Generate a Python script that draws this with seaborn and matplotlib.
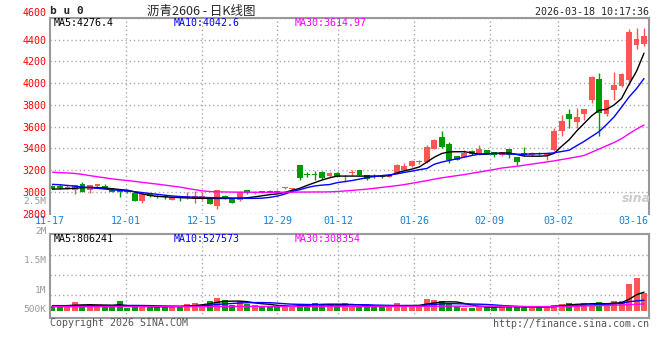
import numpy as np
import pandas as pd
import seaborn as sns
import matplotlib
matplotlib.use("Agg")
import matplotlib.pyplot as plt

# ---- data (bu0 daily K, 80 sessions) ----
tick_idx = [0, 10, 20, 30, 38, 48, 58, 67, 77]
tick_labels = ["11-17", "12-01", "12-15", "12-29", "01-12", "01-26", "02-09", "03-02", "03-16"]

opens = [3054, 3052, 3040, 3017, 3072, 3017, 3054, 3057, 3030, 3017,
         3014, 2993, 2920, 2978, 2962, 2960, 2926, 2950, 2941, 2932,
         2941, 2941, 2871, 2962, 2941, 2926, 3017, 2987, 3005, 3011,
         3005, 3033, 3023, 3247, 3163, 3163, 3185, 3146, 3176, 3133,
         3174, 3200, 3158, 3148, 3142, 3139, 3176, 3200, 3237, 3275,
         3277, 3399, 3506, 3439, 3329, 3323, 3378, 3353, 3384, 3368,
         3344, 3393, 3323, 3359, 3338, 3356, 3338, 3388, 3558, 3714,
         3640, 3714, 3843, 4035, 3714, 3934, 3970, 4026, 4356, 4362]
highs = [3062, 3072, 3060, 3066, 3094, 3066, 3075, 3072, 3035, 3020,
         3020, 2996, 2984, 2985, 2970, 2966, 2955, 2955, 3002, 3011,
         3002, 2945, 3020, 2975, 2944, 3005, 3020, 3008, 3011, 3017,
         3014, 3048, 3039, 3250, 3185, 3190, 3190, 3185, 3185, 3155,
         3200, 3203, 3160, 3164, 3155, 3160, 3255, 3262, 3292, 3298,
         3436, 3491, 3558, 3460, 3335, 3390, 3385, 3430, 3390, 3372,
         3372, 3396, 3325, 3414, 3368, 3370, 3359, 3590, 3707, 3760,
         3770, 3767, 4065, 4093, 3845, 4100, 4097, 4500, 4505, 4505]
lows = [3025, 3028, 3030, 2978, 2998, 2987, 3050, 3027, 2998, 2950,
        2987, 2915, 2895, 2958, 2941, 2935, 2922, 2920, 2938, 2901,
        2926, 2885, 2840, 2935, 2898, 2920, 2984, 2980, 2993, 2990,
        2996, 3030, 3020, 3110, 3133, 3110, 3120, 3140, 3135, 3093,
        3155, 3150, 3110, 3124, 3124, 3133, 3170, 3195, 3230, 3255,
        3270, 3395, 3405, 3268, 3290, 3318, 3340, 3350, 3345, 3320,
        3330, 3314, 3246, 3335, 3330, 3344, 3298, 3380, 3518, 3585,
        3585, 3660, 3820, 3515, 3700, 3843, 3965, 3980, 4317, 4347]
closes = [3030, 3035, 3046, 3063, 3002, 3063, 3072, 3030, 3002, 3002,
          2999, 2920, 2981, 2962, 2955, 2952, 2950, 2945, 2962, 2962,
          2962, 2889, 3017, 2941, 2901, 3002, 2987, 3002, 2999, 2993,
          3000, 3042, 3033, 3124, 3160, 3160, 3124, 3176, 3140, 3137,
          3178, 3155, 3118, 3142, 3138, 3155, 3246, 3237, 3286, 3280,
          3414, 3476, 3414, 3292, 3298, 3362, 3347, 3399, 3353, 3338,
          3368, 3344, 3271, 3338, 3359, 3352, 3353, 3565, 3650, 3668,
          3685, 3760, 4056, 3730, 3843, 3980, 4087, 4469, 4408, 4439]

ma5 = [3026, 3028, 3030, 3034, 3038, 3042, 3040, 3036, 3030, 3022,
       3016, 3000, 2982, 2968, 2960, 2955, 2951, 2948, 2945, 2943,
       2941, 2941, 2940, 2940, 2941, 2942, 2946, 2955, 2965, 2975,
       2982, 2995, 3015, 3033, 3060, 3085, 3110, 3130, 3146, 3146,
       3146, 3146, 3146, 3146, 3146, 3150, 3175, 3195, 3210, 3230,
       3275, 3320, 3354, 3369, 3370, 3370, 3360, 3345, 3348, 3355,
       3359, 3358, 3345, 3330, 3329, 3329, 3332, 3355, 3420, 3480,
       3560, 3630, 3700, 3752, 3760, 3800, 3860, 3990, 4110, 4276]
ma10 = [3070, 3066, 3060, 3053, 3046, 3040, 3033, 3027, 3020, 3015,
        3010, 3002, 2994, 2986, 2978, 2970, 2963, 2958, 2954, 2952,
        2950, 2948, 2946, 2945, 2944, 2942, 2941, 2941, 2943, 2950,
        2962, 2980, 3005, 3020, 3040, 3055, 3063, 3068, 3085, 3095,
        3105, 3118, 3132, 3142, 3150, 3158, 3166, 3180, 3192, 3205,
        3216, 3255, 3275, 3290, 3305, 3320, 3335, 3348, 3352, 3354,
        3352, 3350, 3347, 3347, 3350, 3352, 3354, 3360, 3372, 3384,
        3425, 3465, 3510, 3555, 3620, 3690, 3780, 3873, 3950, 4043]
ma30 = [3182, 3178, 3175, 3170, 3162, 3150, 3140, 3130, 3120, 3112,
        3105, 3097, 3088, 3080, 3072, 3063, 3054, 3045, 3033, 3021,
        3010, 3004, 3001, 3000, 2999, 2998, 2998, 2997, 2997, 2997,
        2997, 2998, 2998, 2999, 2999, 3000, 3000, 3001, 3004, 3009,
        3014, 3020, 3026, 3034, 3042, 3050, 3058, 3068, 3080, 3092,
        3104, 3118, 3130, 3140, 3150, 3160, 3172, 3183, 3195, 3207,
        3220, 3228, 3236, 3246, 3256, 3266, 3276, 3286, 3298, 3310,
        3322, 3336, 3365, 3395, 3425, 3455, 3490, 3535, 3578, 3615]

# volume in thousands of lots
volumes = [333, 333, 333, 479, 333, 401, 333, 367, 367, 503,
           275, 333, 333, 289, 289, 333, 310, 333, 401, 445,
           367, 503, 605, 537, 367, 503, 418, 367, 333, 333,
           333, 333, 289, 401, 401, 435, 401, 401, 333, 435,
           333, 333, 333, 333, 289, 333, 435, 333, 333, 333,
           571, 537, 503, 418, 333, 275, 275, 333, 289, 289,
           333, 333, 289, 333, 289, 289, 333, 367, 401, 435,
           401, 435, 333, 479, 401, 503, 503, 1081, 1275, 785]
vol_ma5 = [340, 340, 345, 360, 370, 375, 370, 365, 360, 375,
           345, 340, 330, 320, 305, 310, 315, 315, 335, 345,
           375, 410, 460, 490, 500, 500, 480, 440, 410, 390,
           355, 340, 325, 340, 355, 380, 390, 395, 395, 390,
           385, 370, 355, 335, 320, 325, 340, 345, 350, 355,
           400, 435, 470, 475, 470, 420, 370, 325, 300, 290,
           305, 315, 310, 310, 305, 300, 305, 320, 340, 370,
           390, 400, 410, 415, 410, 430, 445, 560, 715, 806]
vol_ma10 = [345, 345, 345, 345, 345, 345, 345, 345, 345, 350,
            350, 352, 350, 345, 340, 335, 330, 325, 325, 330,
            345, 360, 385, 405, 420, 435, 445, 450, 450, 445,
            430, 410, 395, 390, 385, 380, 370, 365, 360, 365,
            370, 375, 375, 365, 360, 355, 350, 350, 345, 345,
            365, 385, 405, 415, 410, 405, 400, 395, 385, 370,
            350, 335, 320, 310, 305, 302, 305, 315, 325, 340,
            350, 360, 370, 380, 390, 405, 420, 480, 505, 528]
vol_ma30 = [310, 310, 310, 310, 310, 310, 311, 311, 311, 312,
            312, 312, 312, 312, 312, 312, 313, 313, 313, 313,
            314, 314, 315, 316, 317, 318, 319, 320, 320, 320,
            320, 320, 320, 320, 320, 320, 320, 320, 320, 320,
            320, 320, 320, 320, 320, 320, 320, 320, 320, 320,
            322, 324, 326, 328, 328, 328, 328, 328, 326, 324,
            322, 320, 318, 316, 315, 315, 315, 316, 318, 322,
            328, 334, 340, 346, 352, 358, 366, 378, 392, 401]

RED = "#ff5555"
GREEN = "#009b00"
BLUE_TXT = "#1a80d0"
GRID = "#aaaaaa"
FRAME = "#999999"

sns.set_style("white")
plt.rcParams["font.family"] = ["DejaVu Sans Mono", "Noto Sans CJK SC"]

W, H = 660, 360
fig = plt.figure(figsize=(W / 100, H / 100), dpi=100)


def fx(x):
    return x / W


def fy(y):
    return 1 - y / H


ax = fig.add_axes([fx(50), fy(213.7), 599 / W, 195.7 / H])
axv = fig.add_axes([fx(50), fy(318.3), 599 / W, 84 / H])

df = pd.DataFrame({"open": opens, "high": highs, "low": lows, "close": closes,
                   "vol": volumes, "ma5": ma5, "ma10": ma10, "ma30": ma30,
                   "vma5": vol_ma5, "vma10": vol_ma10, "vma30": vol_ma30})
df["x"] = np.arange(len(df))
up = df["close"] >= df["open"]
cols = np.where(up, RED, GREEN)

# candles
ax.vlines(df["x"], df["low"], df["high"], colors=cols, lw=1, zorder=2)
body = np.maximum((df["close"] - df["open"]).abs(), 7)
ax.bar(df["x"], body, bottom=np.minimum(df["open"], df["close"]),
       width=0.78, color=cols, lw=0, zorder=2)

for col, c in [("ma5", "black"), ("ma10", "#0000ff"), ("ma30", "#ff00ff")]:
    sns.lineplot(data=df, x="x", y=col, ax=ax, color=c, lw=1, zorder=4, legend=False)

# volume
floor = 163
axv.bar(df["x"], df["vol"] - floor, bottom=floor, width=0.8, color=cols, lw=0, zorder=2)
for col, c in [("vma5", "black"), ("vma10", "#0000ff"), ("vma30", "#ff00ff")]:
    sns.lineplot(data=df, x="x", y=col, ax=axv, color=c, lw=1, zorder=4, legend=False)

n = len(df)
xlim = (-1 / 3, n - 1 / 3)
grid_pos = [-1 / 3 + i * n / (n - 1) for i in tick_idx]

for a in (ax, axv):
    a.set_xlim(*xlim)
    a.set_xlabel("")
    a.set_ylabel("")
    for gx, i in zip(grid_pos, tick_idx):
        if 0 < i < 70:
            a.axvline(gx, color=GRID, lw=1, ls=(0, (1, 2)), zorder=1)
    a.tick_params(length=0)

# price axis
ax.set_ylim(2800, 4600)
ax.set_yticks(range(2800, 4601, 200))
ax.set_yticklabels([str(v) for v in range(2800, 4601, 200)], color="#ff0000", fontsize=7.2)
ax.tick_params(axis="y", pad=2.5)
ax.get_yticklabels()[-1].set_va("bottom")
ax.yaxis.grid(True, color=GRID, lw=1, ls=(0, (1, 2)))
ax.set_xticks(grid_pos)
ax.set_xticklabels(tick_labels, color=BLUE_TXT, fontsize=7.2)
ax.tick_params(axis="x", pad=2)
for s in ("left", "top", "right"):
    ax.spines[s].set_color(FRAME)
    ax.spines[s].set_linewidth(1.5)
ax.spines["bottom"].set_visible(False)

# volume axis (0 at y=315.8px, 34K per px)
axv.set_ylim(-85, 2771)
axv.set_yticks([697, 1377, 2067])
axv.set_yticklabels([])
axv.yaxis.grid(True, color=GRID, lw=1, ls=(0, (1, 2)))
axv.set_xticks([])
for s in axv.spines.values():
    s.set_color(FRAME)
    s.set_linewidth(1.5)

for lab, y in [("2.5M", 201), ("2M", 231), ("1.5M", 260.7), ("1M", 290.7), ("500K", 310)]:
    fig.text(fx(46.5), fy(y), lab, color="#999999", fontsize=6.8, ha="right", va="center")

# header texts
fig.text(fx(50), fy(11), "b u 0", fontsize=8, fontweight="bold", va="center", ha="left")
fig.text(fx(201), fy(11), "沥青2606 - 日K线图", fontsize=9, va="center", ha="center",
         family=["Noto Sans CJK SC", "DejaVu Sans"])
fig.text(fx(649), fy(12), "2026-03-18 10:17:36", fontsize=7.2, va="center", ha="right")

fig.text(fx(54), fy(23.3), "MA5:4276.4", fontsize=7.2, color="black", va="center")
fig.text(fx(174), fy(23.3), "MA10:4042.6", fontsize=7.2, color="#0000ff", va="center")
fig.text(fx(295), fy(23.3), "MA30:3614.97", fontsize=7.2, color="#ff00ff", va="center")

fig.text(fx(54), fy(238.5), "MA5:806241", fontsize=7.2, color="black", va="center")
fig.text(fx(174), fy(238.5), "MA10:527573", fontsize=7.2, color="#0000ff", va="center")
fig.text(fx(295), fy(238.5), "MA30:308354", fontsize=7.2, color="#ff00ff", va="center")

fig.text(fx(50), fy(323.5), "Copyright 2026 SINA.COM", fontsize=7.2, color="#555555", va="center")
fig.text(fx(649), fy(324), "http://finance.sina.com.cn", fontsize=7.2, color="#555555",
         va="center", ha="right")

fig.text(fx(636), fy(199), "sina", fontsize=9, color="#cccccc", ha="center", va="center",
         style="italic", fontweight="bold", family="DejaVu Sans", zorder=0)

fig.savefig("out.png", dpi=100)
